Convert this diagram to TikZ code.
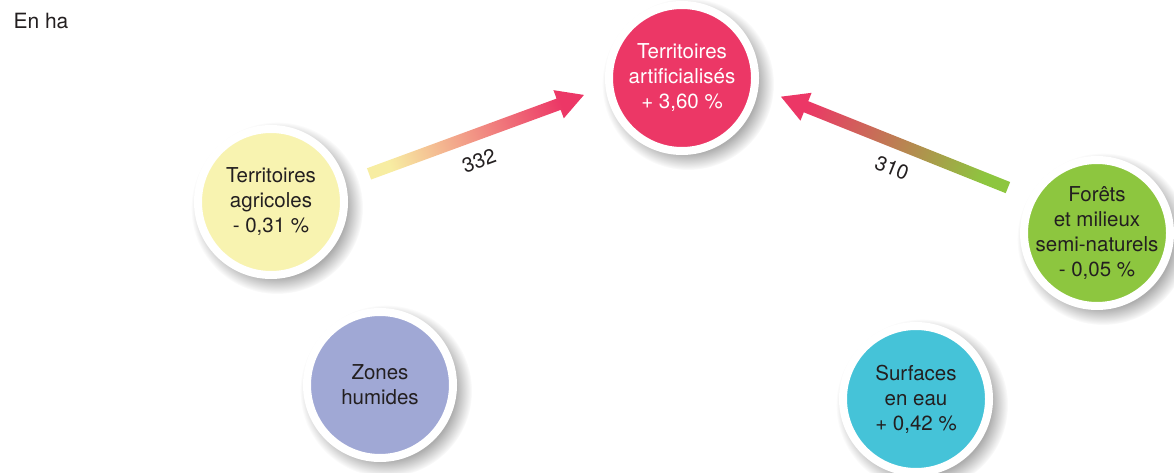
\documentclass[tikz,border=0pt]{standalone}
\usepackage{fontspec}
\setmainfont{TeX Gyre Heros}
\usetikzlibrary{calc,fadings,backgrounds}

\definecolor{textdark}{HTML}{231F20}
\definecolor{artipink}{HTML}{EC3766}
\definecolor{agriyellow}{HTML}{F8F3B0}
\definecolor{agriarrow}{HTML}{F7EDA2}
\definecolor{forestgreen}{HTML}{8DC63F}
\definecolor{humidblue}{HTML}{A0A8D5}
\definecolor{eaucyan}{HTML}{45C3D8}

\newcommand{\zonefont}{\fontsize{20.5}{25}\selectfont}

% shaded flow arrow: tail, tip, tail colour, tip colour, shading angle
\newcommand{\fluxarrow}[5]{%
  \path ($(#2)!27pt!(#1)$) coordinate (hb);
  \shade[bottom color=#3, top color=#4, shading angle=#5]
    ($(#1)!6pt!90:(#2)$) -- ($(hb)!6pt!-90:(#1)$) -- ($(hb)!15pt!-90:(#1)$)
    -- (#2) -- ($(hb)!15pt!90:(#1)$) -- ($(hb)!6pt!90:(#1)$)
    -- ($(#1)!6pt!-90:(#2)$) -- cycle;
}

\tikzset{
  zone/.style={circle, minimum size=146pt, inner sep=-12pt, draw=white,
    line width=8pt, align=center, text=textdark, font=\zonefont},
  zoneshadow/.style={fill=black!32, path fading=circle with fuzzy edge 20 percent},
  flux/.style={text=textdark, font=\zonefont, sloped}
}

\begin{document}
\begin{tikzpicture}[x=1pt, y=1pt]
  \useasboundingbox (0,0) rectangle (1174,472);

  % Unit
  \node[anchor=base west, font=\fontsize{21}{25}\selectfont, text=textdark] (unit) at (10,443) {En ha};

  % Land-use circles
  \node[zone, fill=artipink, text=white] (arti) at (682,394)
    {Territoires\\artificialisés\\+ 3,60 \%};
  \node[zone, fill=agriyellow] (agri) at (271,270)
    {Territoires\\agricoles\\- 0,31 \%};
  \node[zone, fill=forestgreen] (foret) at (1097,239)
    {Forêts\\et milieux\\semi-naturels\\- 0,05 \%};
  \node[zone, fill=humidblue] (humid) at (380,87) {Zones\\humides};
  \node[zone, fill=eaucyan] (eau) at (916,73)
    {Surfaces\\en eau\\+ 0,42 \%};

  % Soft shadows behind the circles
  \begin{scope}[on background layer]
    \foreach \z in {arti,agri,foret,humid,eau}
      \fill[zoneshadow] ([shift={(6pt,-6pt)}]\z.center) circle (86pt);
  \end{scope}

  % Flows towards artificial land
  \coordinate (agriout) at ($(agri)+(16:102pt)$);
  \coordinate (artiin1) at ($(arti)+(189.8:99.5pt)$);
  \coordinate (foretout) at ($(foret)+(153:100pt)$);
  \coordinate (artiin2) at ($(arti)+(-10.7:100.7pt)$);
  \fluxarrow{agriout}{artiin1}{agriarrow}{artipink}{-70}
  \fluxarrow{foretout}{artiin2}{forestgreen}{artipink}{68}

  % Flow labels
  \path (agriout) -- (artiin1) node[flux, pos=.47, below=15pt] (l332) {332};
  \path (artiin2) -- (foretout) node[flux, pos=.53, below=14pt] (l310) {310};
\end{tikzpicture}
\end{document}
